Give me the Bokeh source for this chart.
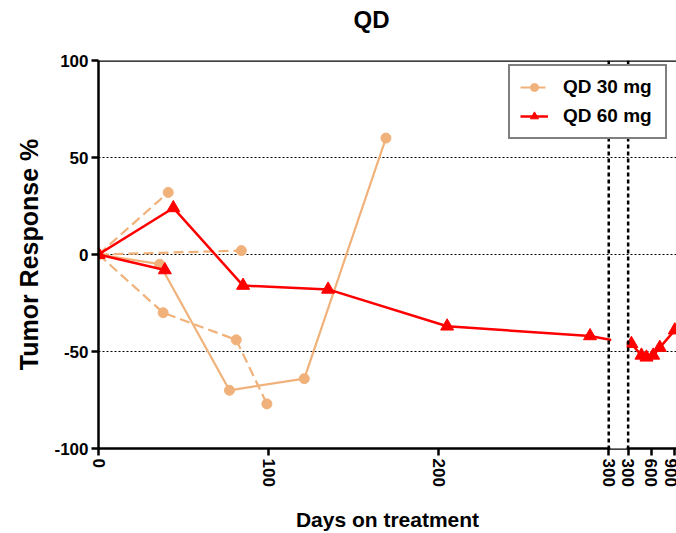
from bokeh.plotting import figure
from bokeh.models import (ColumnDataSource, CustomJSTransform, CustomJSTickFormatter,
                          FixedTicker, Range1d, Span, BoxAnnotation, Legend, LegendItem)
from bokeh.transform import transform
from bokeh.embed import file_html
from bokeh.resources import INLINE

# ---------------- data (days on treatment, tumor response %) ----------------
qd30_a_days = [0, 41]
qd30_a_resp = [0, 32]
qd30_b_days = [0, 84]
qd30_b_resp = [0, 2]
qd30_c_days = [0, 36, 77, 121, 169]
qd30_c_resp = [0, -5, -70, -64, 60]
qd30_d_days = [0, 38, 81, 99]
qd30_d_resp = [0, -30, -44, -77]

qd60_a_days = [0, 44, 85, 135, 205, 289, 342, 471, 536, 622, 707, 900]
qd60_a_resp = [0, 24, -16, -18, -37, -42, -46, -52, -53, -52, -48, -39]
qd60_b_days = [0, 39]
qd60_b_resp = [0, -8]

left_tick_days = [0, 100, 200, 300]
right_tick_days = [300, 600, 900]
y_ticks = [-100, -50, 0, 50, 100]
grid_ticks = [-50, 0, 50]

title_text = "QD"
series_labels = ["QD 30 mg", "QD 60 mg"]
TAN = "#F0B27A"
RED = "#FF0000"
FONT = "Liberation Sans"

# ---------------- broken-axis mapping ----------------
BREAK = 300.0     # axis break at day 300
GAP = 11.42       # width of the gap (in left-segment units)
K = 0.04571       # compression of the right segment
X_END = 339.85

brk = CustomJSTransform(args=dict(B=BREAK, G=GAP, K=K), v_func="""
    const out = new Float64Array(xs.length);
    for (let i = 0; i < xs.length; i++) {
        const d = xs[i];
        out[i] = d <= B ? d : B + G + (d - B) * K;
    }
    return out;
""")

tick_pos = [float(t) for t in left_tick_days] + [BREAK + GAP + (t - BREAK) * K for t in right_tick_days]

fmt = CustomJSTickFormatter(args=dict(B=BREAK, G=GAP, K=K), code="""
    const d = tick <= B + G / 2 ? tick : B + (tick - B - G) / K;
    return Math.round(d).toFixed(0);
""")
yfmt = CustomJSTickFormatter(code="return Math.round(tick).toFixed(0);")

p = figure(width=676, height=533, output_backend="svg", toolbar_location=None,
           x_range=Range1d(0, X_END), y_range=Range1d(-100, 100),
           min_border_left=98, min_border_right=0, min_border_top=60, min_border_bottom=85)
p.outline_line_color = None
p.background_fill_color = "white"

# title: an empty second line keeps "QD" high above the frame
p.title.text = title_text + "\n "
p.title.text_font = FONT
p.title.text_font_size = "24px"
p.title.text_font_style = "bold"
p.title.text_color = "black"
p.title.align = "left"
p.title.offset = 255
p.title.standoff = 2

# grid
p.xgrid.visible = False
p.ygrid.ticker = FixedTicker(ticks=grid_ticks)
p.ygrid.grid_line_color = "black"
p.ygrid.grid_line_dash = "2 2"
p.ygrid.grid_line_width = 1.2

# axes
xa = p.xaxis[0]
ya = p.yaxis[0]
xa.ticker = FixedTicker(ticks=tick_pos, minor_ticks=[])
xa.formatter = fmt
xa.major_label_orientation = "vertical"
ya.ticker = FixedTicker(ticks=y_ticks, minor_ticks=[])
ya.formatter = yfmt
for ax in (xa, ya):
    ax.axis_line_width = 2.5
    ax.axis_line_color = "black"
    ax.major_tick_line_width = 2.5
    ax.major_tick_line_color = "black"
    ax.major_tick_out = 7
    ax.major_tick_in = 0
    ax.minor_tick_line_color = None
    ax.major_label_text_font = FONT
    ax.major_label_text_font_style = "bold"
    ax.major_label_text_font_size = "17px"
    ax.major_label_text_color = "black"
    ax.major_label_standoff = 3
    ax.axis_label_text_font = FONT
    ax.axis_label_text_font_style = "bold"
    ax.axis_label_text_color = "black"
xa.axis_label = "Days on treatment"
xa.axis_label_text_font_size = "21px"
xa.axis_label_standoff = 18
ya.axis_label = "Tumor Response %"
ya.axis_label_text_font_size = "25px"
ya.axis_label_standoff = 8

# top border line
p.add_layout(Span(location=100, dimension="width", line_color="black", line_width=2.5))

# ---------------- series ----------------
def src(days, resp):
    return ColumnDataSource(dict(day=days, resp=resp))

tan_dash = "10 5"
r30 = []
for days, resp, dash in [(qd30_a_days, qd30_a_resp, tan_dash),
                         (qd30_b_days, qd30_b_resp, tan_dash),
                         (qd30_c_days, qd30_c_resp, "solid"),
                         (qd30_d_days, qd30_d_resp, tan_dash)]:
    s = src(days, resp)
    ln = p.line(x=transform("day", brk), y="resp", source=s, line_color=TAN,
                line_width=2.2, line_dash=dash)
    sc = p.scatter(x=transform("day", brk), y="resp", source=s, marker="circle",
                   size=10, fill_color=TAN, line_color=TAN)
    r30.append((ln, sc))

r60 = []
for days, resp in [(qd60_a_days, qd60_a_resp), (qd60_b_days, qd60_b_resp)]:
    s = src(days, resp)
    ln = p.line(x=transform("day", brk), y="resp", source=s, line_color=RED, line_width=2.5)
    sc = p.scatter(x=transform("day", brk), y="resp", source=s, marker="triangle",
                   size=13, fill_color=RED, line_color=RED)
    r60.append((ln, sc))

# break: interrupt the data line and the x axis line inside the gap
px_per_unit = 509.8 / 300.0
gap_l = BREAK + 2.5 / px_per_unit
gap_r = BREAK + GAP - 1.5 / px_per_unit
p.add_layout(BoxAnnotation(left=gap_l, right=gap_r, bottom=-48.5, top=-38,
                           fill_color="white", fill_alpha=1.0, line_color=None,
                           level="annotation"))
p.add_layout(BoxAnnotation(left=BREAK + 1.6 / px_per_unit, right=BREAK + GAP - 1.6 / px_per_unit,
                           bottom=-101.6, top=-99.2, fill_color="white", fill_alpha=1.0,
                           line_color=None, level="overlay"))

# break lines
for loc in (BREAK, BREAK + GAP):
    p.add_layout(Span(location=loc, dimension="height", line_color="black",
                      line_width=2.5, line_dash="4 3", level="overlay"))

legend = Legend(items=[LegendItem(label=series_labels[0], renderers=[r30[0][0], r30[0][1]]),
                       LegendItem(label=series_labels[1], renderers=[r60[0][0], r60[0][1]])],
                location=(410, 309))
legend.level = "overlay"
legend.border_line_color = "black"
legend.border_line_width = 2
legend.background_fill_color = "white"
legend.background_fill_alpha = 1.0
legend.padding = 10
legend.spacing = 7
legend.margin = 0
legend.glyph_width = 28
legend.glyph_height = 20
legend.label_standoff = 15
legend.label_width = 92
legend.label_text_font = FONT
legend.label_text_font_style = "bold"
legend.label_text_font_size = "19px"
legend.label_text_color = "black"
p.add_layout(legend, "center")

open("out.html", "w").write(file_html(p, INLINE))
